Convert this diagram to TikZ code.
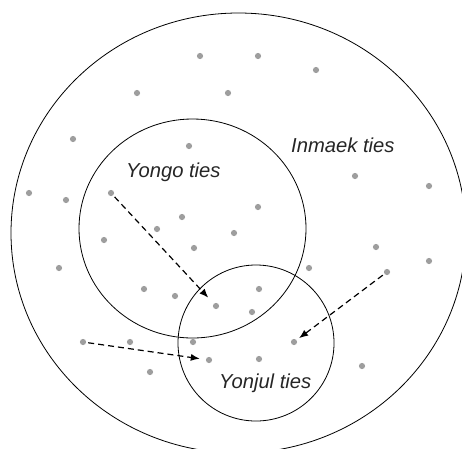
\documentclass[tikz,border=0pt]{standalone}
\usepackage{fontspec}
\setmainfont{Liberation Sans}
\usetikzlibrary{arrows.meta}
\definecolor{dotgray}{HTML}{9E9E9E}
\tikzset{
  dot/.style={circle,fill=dotgray,draw=none,inner sep=0pt,minimum size=6.2pt},
  ring/.style={draw=black,line width=0.8pt},
  move/.style={dashed,dash pattern=on 6pt off 4pt,line width=1.2pt,-{Latex[length=9pt,width=7pt]}},
  lab/.style={font=\fontsize{20.2}{23}\selectfont\itshape,inner sep=0pt,anchor=base west,text=black!85}
}
\begin{document}
\begin{tikzpicture}[x=1pt,y=-1pt]
\useasboundingbox (0,0) rectangle (462,448);
\begin{scope}
\clip (0,0) rectangle (462,448);
\draw[ring] (238.5,233) ellipse [x radius=227.5, y radius=220];
\draw[ring] (192.5,228.5) ellipse [x radius=113.5, y radius=109.5];
\draw[ring] (256,343) circle [radius=78];
\end{scope}
% dots
\foreach \n/\x/\y in {d1/200/56, d2/258/56, d3/316/70, d4/137/93, d5/228/93, d6/73/139,
  d7/189/146, d8/355/176, d9/429/186, d10/29/193, d11/66/200, a1/111/193, d13/182/217,
  d14/258/207, d15/157/229, d16/234/233, d17/104/240, d18/194/248, d19/376/247, d20/59/268,
  d21/429/261, d22/309/268, a3/387/272, d24/259/289, d25/144/289, d26/175/296, b1/216/306,
  d28/252/312, a2/83/342, d30/130/342, d31/193/342, b3/294/342, b2/209/360, d34/259/359,
  d35/150/372, d36/362/366}
  \node[dot] (\n) at (\x,\y) {};
% arrows
\draw[move,shorten <=2pt,shorten >=8pt] (a1) -- (b1);
\draw[move,shorten <=2pt,shorten >=6pt] (a2) -- (b2);
\draw[move,shorten <=2pt,shorten >=3pt] (a3) -- (b3);
% labels
\node[lab] (yongo) at (126,177) {Yongo ties};
\node[lab] (inmaek) at (291,152) {Inmaek ties};
\node[lab] (yonjul) at (219,388) {Yonjul ties};
\end{tikzpicture}
\end{document}
